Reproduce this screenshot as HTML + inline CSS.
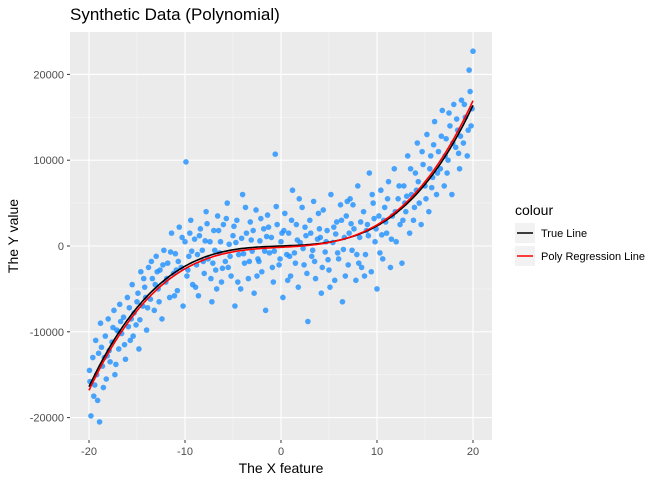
<!DOCTYPE html>
<html><head><meta charset="utf-8"><style>
body{margin:0;background:#fff;font-family:"Liberation Sans",sans-serif}
</style></head><body>
<svg id="chart" width="672" height="480" xmlns="http://www.w3.org/2000/svg" font-family="Liberation Sans, sans-serif">
<rect width="672" height="480" fill="#fff"/>
<text x="70" y="20" font-size="17" fill="#000">Synthetic Data (Polynomial)</text>
<rect x="70" y="32" width="422" height="408" fill="#EBEBEB"/>
<g id="grid"></g>
<g id="pts"></g>
<g id="lines"></g>
<g id="axes"></g>
<text x="281" y="473" font-size="14" text-anchor="middle">The X feature</text>
<text x="18" y="236" font-size="14" text-anchor="middle" transform="rotate(-90 18 236)">The Y value</text>
<g>
<text x="515" y="215" font-size="14">colour</text>
<rect x="515" y="223" width="20" height="20" fill="#F2F2F2"/>
<line x1="517" y1="233" x2="533" y2="233" stroke="#000" stroke-width="1.5"/>
<text x="541" y="237" font-size="11">True Line</text>
<rect x="515" y="246" width="20" height="20" fill="#F2F2F2"/>
<line x1="517" y1="256" x2="533" y2="256" stroke="#f00" stroke-width="1.5"/>
<text x="541" y="260" font-size="11">Poly Regression Line</text>
</g>
</svg>
<script>
const xVals=[-19.9,-19.8,-19.6,-19.5,-19.3,-19.2,-19.0,-18.9,-18.8,-18.6,-18.5,-18.3,-18.1,-18.0,-17.8,-17.6,-17.4,-17.3,-17.1,-16.9,-16.8,-16.6,-16.4,-16.2,-16.0,-15.9,-15.7,-15.5,-15.3,-15.1,-14.9,-14.8,-14.6,-14.4,-14.2,-14.0,-13.8,-13.6,-13.4,-13.2,-13.0,-12.8,-12.6,-12.4,-12.2,-12.0,-11.8,-11.6,-11.4,-11.2,-11.0,-10.8,-10.6,-10.4,-10.2,-10.0,-9.9,-9.8,-9.6,-9.4,-9.2,-9.0,-8.8,-8.6,-8.4,-8.2,-8.0,-7.8,-7.6,-7.4,-7.2,-7.0,-6.8,-6.6,-6.4,-6.2,-6.0,-5.8,-5.6,-5.4,-5.2,-5.0,-4.8,-4.6,-4.4,-4.2,-4.0,-3.8,-3.6,-3.4,-3.2,-3.0,-2.8,-2.6,-2.4,-2.2,-2.0,-1.8,-1.6,-1.4,-1.2,-1.0,-0.8,-0.6,-0.4,-0.2,0.0,0.2,0.4,0.6,0.8,1.0,1.2,1.4,1.6,1.8,2.0,2.2,2.4,2.6,2.8,3.0,3.2,3.4,3.6,3.8,4.0,4.2,4.4,4.6,4.8,5.0,5.2,5.4,5.6,5.8,6.0,6.2,6.4,6.6,6.8,7.0,7.2,7.4,7.6,7.8,8.0,8.2,8.4,8.6,8.8,9.0,9.2,9.4,9.6,9.8,10.0,10.2,10.4,10.6,10.8,11.0,11.2,11.4,11.6,11.8,12.0,12.2,12.4,12.6,12.8,13.0,13.2,13.4,13.6,13.8,14.0,14.2,14.4,14.6,14.8,15.0,15.2,15.4,15.6,15.8,16.0,16.2,16.4,16.6,16.8,17.0,17.2,17.4,17.6,17.8,18.0,18.2,18.4,18.6,18.8,19.0,19.2,19.4,19.6,19.8,20.0,19.9,
-19.95,-19.4,-19.1,-18.7,-18.2,-17.9,-17.5,-17.2,-16.7,-16.3,-15.8,-15.4,-15.0,-14.7,-14.3,-13.9,-13.5,-13.1,-12.7,-12.3,-11.9,-11.5,-11.1,-10.7,-10.3,-9.7,-9.3,-8.9,-8.5,-8.1,-7.7,-7.3,-6.9,-6.5,-6.1,-5.7,-5.3,-4.9,-4.5,-4.1,-3.7,-3.3,-2.9,-2.5,-2.1,-1.7,-1.3,-0.9,-0.5,-0.1,0.3,0.7,1.1,1.5,1.9,2.3,2.7,3.1,3.5,3.9,4.3,4.7,5.1,5.5,5.9,6.3,6.7,7.1,7.5,7.9,8.3,8.7,9.1,9.5,9.9,10.3,10.7,11.1,11.5,11.9,12.3,12.7,13.1,13.5,13.9,14.3,14.7,15.1,15.5,15.9,16.3,16.7,17.1,17.5,17.9,18.3,18.7,19.1,19.5,19.7,
-9.5,-8.7,-7.9,-7.1,-6.3,-5.5,-4.7,-3.9,-3.1,-2.3,-1.5,-0.7,0.1,0.9,1.7,2.5,3.3,4.1,4.9,5.7,6.5,7.3,8.1,8.9,9.7,10.5,-12.9,-14.1,-15.6,-16.9,-18.4,12.9,14.1,15.7,17.3,18.5,-10.9,10.9,-6.7,6.9];
const yVals=[-15800,-19800,-13000,-17500,-11000,-15000,-12500,-20500,-9000,-14000,-16500,-10500,-12800,-8500,-13500,-11200,-7500,-15000,-9800,-12000,-6800,-10200,-8300,-13200,-6000,-9400,-11000,-4500,-7800,-9200,-5500,-12000,-3000,-7000,-4800,-9800,-2500,-6200,-3800,-7500,-1200,-5000,-2800,-8500,-500,-4200,-2000,-6000,1500,-3200,-900,-5200,2200,-2500,-7000,500,9800,-3500,-1200,3000,-4500,800,-2200,-5800,2000,-500,-3200,4000,-1500,500,-6500,1800,-2800,3500,-800,-4200,2500,-1800,5000,200,-3500,1200,-7000,3000,-1000,-5000,6000,-2000,1500,-3800,2800,-600,-5500,4200,-1500,600,-3000,2000,-7500,3600,-800,1000,-4200,10700,2500,-2200,500,-6000,3800,-1000,1500,-3500,6500,-800,2500,-4800,400,4500,-2200,1200,-8800,3000,-1200,5200,-3800,800,2000,-5500,4200,-700,1800,-2800,6000,400,-4000,2800,-1500,4800,-6500,1000,3500,-2200,5500,-500,2000,-4000,7000,1000,-2500,4000,-1000,2500,8500,-3000,5000,500,-5000,3500,6500,-1500,4500,1500,7500,-2500,3500,9000,500,5500,2500,-2000,7000,4000,10500,1500,6000,3000,8500,12000,5000,2500,9500,7000,13000,4000,10500,8000,14500,6000,11000,9000,15800,7000,12500,10000,14000,6000,16500,11500,13500,9000,17000,12000,15000,10500,20500,14000,22700,16000,
-14500,-16200,-18000,-11800,-15500,-12200,-9500,-13800,-8800,-11500,-7200,-10500,-6500,-8600,-3800,-7200,-1800,-4500,-6500,-2200,-3800,-700,-5800,-1800,1000,-2800,-600,-4800,1200,-1800,2600,-3800,-500,1800,-2600,3200,-1200,2300,-4200,900,4500,-1800,1800,-3500,3200,-600,2200,-2500,4600,-1500,1800,-4000,3000,-2000,5500,-300,-3200,1500,-1800,3800,-2500,500,-4800,2200,-800,3000,-3500,1500,4800,-1000,2800,-3500,1200,6000,2000,-800,3000,5500,800,4000,7000,3000,5800,9000,4500,7500,11000,5500,9000,11800,8500,12800,10500,15500,12000,14800,12800,16500,13500,18000,
1500,-1000,600,-2000,500,-2500,400,-900,700,-1800,1100,-600,1500,-1200,700,2200,-500,1000,-1600,1400,-400,2600,-2000,1800,3200,1300,-3000,-6000,-8500,-10000,-13000,5000,6500,6800,8500,10800,-2800,2800,-5000,5200];
const trueCoef=[0,40,0,1.95];
const polyCoef=[-150,60,0.5,1.96];
const xTicks=[-20,-10,0,10,20];
const yTicks=[-20000,-10000,0,10000,20000];
const X=v=>281+v*9.6;
const Y=v=>246-v*0.00858;
const NS="http://www.w3.org/2000/svg";
function mk(t,a,p){const e=document.createElementNS(NS,t);for(const k in a)e.setAttribute(k,a[k]);p.appendChild(e);return e;}
const grid=document.getElementById('grid'),axes=document.getElementById('axes');
for(let i=0;i<xTicks.length-1;i++){const m=(xTicks[i]+xTicks[i+1])/2;const l=mk('line',{x1:X(m),x2:X(m),y1:32,y2:440,stroke:'#F5F5F5','stroke-width':0.6},grid);

}
for(let i=0;i<yTicks.length-1;i++){const m=(yTicks[i]+yTicks[i+1])/2;const l=mk('line',{x1:70,x2:492,y1:Y(m),y2:Y(m),stroke:'#F5F5F5','stroke-width':0.6},grid);

}
xTicks.forEach(v=>{const l=mk('line',{x1:X(v),x2:X(v),y1:32,y2:440,stroke:'#fff','stroke-width':1.1},grid);


mk('line',{x1:X(v),x2:X(v),y1:440,y2:443,stroke:'#333'},axes);
const t=mk('text',{x:X(v),y:455,'font-size':11,fill:'#4D4D4D','text-anchor':'middle'},axes);t.textContent=v;

});
yTicks.forEach(v=>{const l=mk('line',{x1:70,x2:492,y1:Y(v),y2:Y(v),stroke:'#fff','stroke-width':1.1},grid);


mk('line',{x1:67,x2:70,y1:Y(v),y2:Y(v),stroke:'#333'},axes);
const t=mk('text',{x:64,y:Y(v)+4,'font-size':11,fill:'#4D4D4D','text-anchor':'end'},axes);t.textContent=v;

});
const pts=document.getElementById('pts');
xVals.forEach((x,i)=>{const c=mk('circle',{cx:X(x),cy:Y(yVals[i]),r:2.8,fill:'#1E90FF','fill-opacity':0.8},pts);

});
function poly(c,x){return c[0]+c[1]*x+c[2]*x*x+c[3]*x*x*x;}
function path(c){let d='';for(let x=-20;x<=20.001;x+=0.25){d+=(d?'L':'M')+X(x).toFixed(1)+','+Y(poly(c,x)).toFixed(1);}return d;}
const lines=document.getElementById('lines');
const lt=mk('path',{d:path(trueCoef),fill:'none',stroke:'#000','stroke-width':1.6},lines);


const lp=mk('path',{d:path(polyCoef),fill:'none',stroke:'#f00','stroke-width':1.6},lines);


</script>
</body></html>
